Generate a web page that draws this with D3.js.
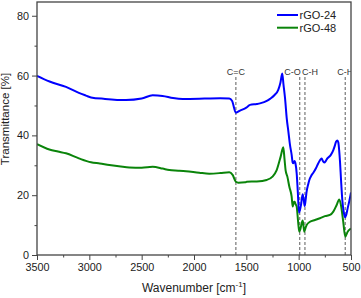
<!DOCTYPE html>
<html>
<head>
<meta charset="utf-8">
<script src="https://cdn.jsdelivr.net/npm/d3@7"></script>
<style>
  body { margin: 0; background: #fff; }
  svg { display: block; font-family: "Liberation Sans", Arial, sans-serif; }
</style>
</head>
<body>
<svg id="chart"></svg>
<script>
// spectra: [wavenumber, transmittance]
const rgo24 = [
  [3500, 59.9], [3380, 58.0], [3223, 56.2], [3100, 54.2], [3032, 53.3], [2984, 52.7],
  [2850, 52.2], [2650, 51.8], [2500, 52.3], [2395, 53.4], [2300, 53.2], [2200, 52.5],
  [2108, 52.2], [1900, 52.3], [1750, 52.4], [1663, 52.3], [1637, 51.6], [1600, 47.6],
  [1560, 48.3], [1500, 49.3], [1465, 50.2], [1400, 50.5], [1370, 50.7], [1300, 51.6],
  [1274, 52.2], [1230, 53.5], [1195, 55.2], [1175, 57.5], [1157, 60.7], [1145, 57.0],
  [1130, 52.4], [1114, 45.7], [1098, 41.2], [1083, 36.8], [1067, 33.5], [1058, 31.0],
  [1051, 30.7], [1040, 31.4], [1030, 30.5], [1019, 27.3], [1008, 21.0], [997, 14.2],
  [988, 15.0], [978, 16.7], [962, 20.3], [950, 18.0], [943, 16.4], [935, 18.0],
  [924, 21.2], [910, 23.5], [898, 25.1], [880, 26.5], [860, 27.5], [835, 29.0],
  [812, 30.7], [780, 32.3], [770, 31.5], [755, 30.9], [740, 31.5], [726, 32.3],
  [694, 33.4], [669, 35.1], [655, 36.5], [643, 37.9], [630, 38.3], [621, 37.6],
  [613, 35.0], [605, 31.2], [595, 25.0], [583, 18.4], [570, 14.5], [557, 12.6],
  [545, 13.5], [532, 15.6], [515, 18.2], [500, 20.9]
];

const rgo48 = [
  [3500, 37.1], [3382, 35.3], [3300, 34.6], [3223, 34.0], [3100, 32.3], [2984, 31.0],
  [2900, 30.6], [2809, 30.1], [2700, 29.6], [2618, 29.3], [2500, 29.2], [2395, 29.5],
  [2300, 28.9], [2236, 28.4], [2150, 28.2], [2076, 28.0], [1950, 27.5], [1854, 27.2],
  [1750, 27.4], [1663, 27.7], [1631, 26.8], [1600, 24.5], [1577, 24.2], [1510, 24.3],
  [1497, 24.5], [1400, 24.6], [1306, 25.1], [1250, 26.2], [1210, 28.4], [1172, 32.9],
  [1147, 36.0], [1135, 32.0], [1125, 28.4], [1108, 26.2], [1089, 22.8], [1067, 19.5],
  [1057, 16.2], [1045, 17.8], [1038, 17.8], [1030, 17.0], [1019, 16.2], [1005, 11.0],
  [994, 7.8], [985, 8.5], [978, 9.5], [962, 11.5], [955, 10.0], [946, 7.8],
  [935, 9.0], [924, 10.0], [892, 11.1], [844, 11.7], [797, 12.3], [749, 13.0],
  [701, 13.4], [669, 14.5], [637, 16.7], [612, 18.6], [596, 16.7], [574, 11.1],
  [555, 6.1], [532, 7.8], [510, 8.6], [500, 8.8]
];

const seriesNames = ["rGO-24", "rGO-48"];
const seriesColors = ["#0000ff", "#0a840a"];

// band assignments marked with dashed lines
const bandPositions = [1600, 990, 940, 555];
const bandLabels = ["C=C", "C-O", "C-H", "C-H"];

const xTicks = [3500, 3000, 2500, 2000, 1500, 1000, 500];
const yTicks = [0, 20, 40, 60, 80];

const width = 361, height = 298;
const margin = { top: 2, right: 10, bottom: 43, left: 37 };

const svg = d3.select("#chart").attr("width", width).attr("height", height);

const x = d3.scaleLinear().domain([3500, 500]).range([margin.left, width - margin.right]);
const y = d3.scaleLinear().domain([0, 84.6]).range([height - margin.bottom, margin.top]);

const axisColor = "#444";

// clip so the curves and labels stay in the frame
svg.append("clipPath").attr("id", "plot-clip")
  .append("rect")
  .attr("x", x.range()[0]).attr("y", y.range()[1])
  .attr("width", x.range()[1] - x.range()[0])
  .attr("height", y.range()[0] - y.range()[1]);

const plot = svg.append("g").attr("clip-path", "url(#plot-clip)");

// dashed band markers
const bands = plot.append("g").selectAll("g")
  .data(bandPositions)
  .enter()
  .append("g");

bands.append("line")
  .attr("x1", d => x(d)).attr("x2", d => x(d))
  .attr("y1", 77).attr("y2", y(0))
  .attr("stroke", "#777")
  .attr("stroke-width", 1.2)
  .attr("stroke-dasharray", "3,2");

const labelAnchor = ["middle", "end", "start", "middle"];
const labelShift = [0, 1, -3, 0];
bands.append("text")
  .attr("x", (d, i) => x(d) + labelShift[i])
  .attr("y", 74.5)
  .attr("text-anchor", (d, i) => labelAnchor[i])
  .attr("font-size", "9px")
  .attr("fill", "#333")
  .text((d, i) => bandLabels[i]);

// the spectra
const line = d3.line()
  .x(d => x(d[0]))
  .y(d => y(d[1]))
  .curve(d3.curveMonotoneX);

[rgo48, rgo24].forEach((data, i) => {
  plot.append("path")
    .datum(data)
    .attr("fill", "none")
    .attr("stroke", seriesColors[1 - i])
    .attr("stroke-width", 2)
    .attr("stroke-linejoin", "round")
    .attr("d", line);
});

// axes
const xAxis = d3.axisBottom(x).tickValues(xTicks).tickSize(5).tickPadding(3).tickFormat(d3.format("d"));
const xMinor = d3.axisBottom(x).tickValues(d3.range(3250, 500, -500)).tickSize(2.5).tickFormat("");
const yAxis = d3.axisLeft(y).tickValues(yTicks).tickSize(5).tickPadding(3);
const yMinor = d3.axisLeft(y).tickValues([10, 30, 50, 70]).tickSize(2.5).tickFormat("");

const styleAxis = g => {
  g.select(".domain").remove();
  g.selectAll("line").attr("stroke", axisColor).attr("stroke-width", 1);
  g.selectAll("text").attr("fill", "#1a1a1a").attr("font-size", "10.8px")
    .attr("font-family", "Liberation Sans, Arial, sans-serif");
};

svg.append("g").attr("transform", `translate(0,${y(0)})`).call(xAxis).call(styleAxis);
svg.append("g").attr("transform", `translate(0,${y(0)})`).call(xMinor).call(styleAxis);
svg.append("g").attr("transform", `translate(${x(3500)},0)`).call(yAxis).call(styleAxis);
svg.append("g").attr("transform", `translate(${x(3500)},0)`).call(yMinor).call(styleAxis);

// frame
svg.append("rect")
  .attr("x", x.range()[0]).attr("y", y.range()[1])
  .attr("width", x.range()[1] - x.range()[0])
  .attr("height", y.range()[0] - y.range()[1])
  .attr("fill", "none")
  .attr("stroke", axisColor)
  .attr("stroke-width", 1.3);

// legend
const legend = svg.append("g").selectAll("g")
  .data(seriesNames)
  .enter()
  .append("g")
  .attr("transform", (d, i) => `translate(277,${15 + i * 12.7})`);

legend.append("line")
  .attr("x1", 0).attr("x2", 21)
  .attr("stroke", (d, i) => seriesColors[i])
  .attr("stroke-width", 2);

legend.append("text")
  .attr("x", 22.5).attr("dy", "0.36em")
  .attr("font-size", "11px")
  .attr("fill", "#222")
  .text(d => d);

// axis titles
const xTitle = svg.append("text")
  .attr("x", (x.range()[0] + x.range()[1]) / 2)
  .attr("y", 292)
  .attr("text-anchor", "middle")
  .attr("font-size", "12px")
  .attr("fill", "#222");
xTitle.append("tspan").text("Wavenumber [cm");
xTitle.append("tspan").attr("dy", -5).attr("font-size", "8px").text("-1");
xTitle.append("tspan").attr("dy", 5).text("]");

svg.append("text")
  .attr("transform", "translate(9,119) rotate(-90)")
  .attr("text-anchor", "middle")
  .attr("font-size", "11.5px")
  .attr("fill", "#222")
  .text("Transmittance [%]");
</script>
</body>
</html>
